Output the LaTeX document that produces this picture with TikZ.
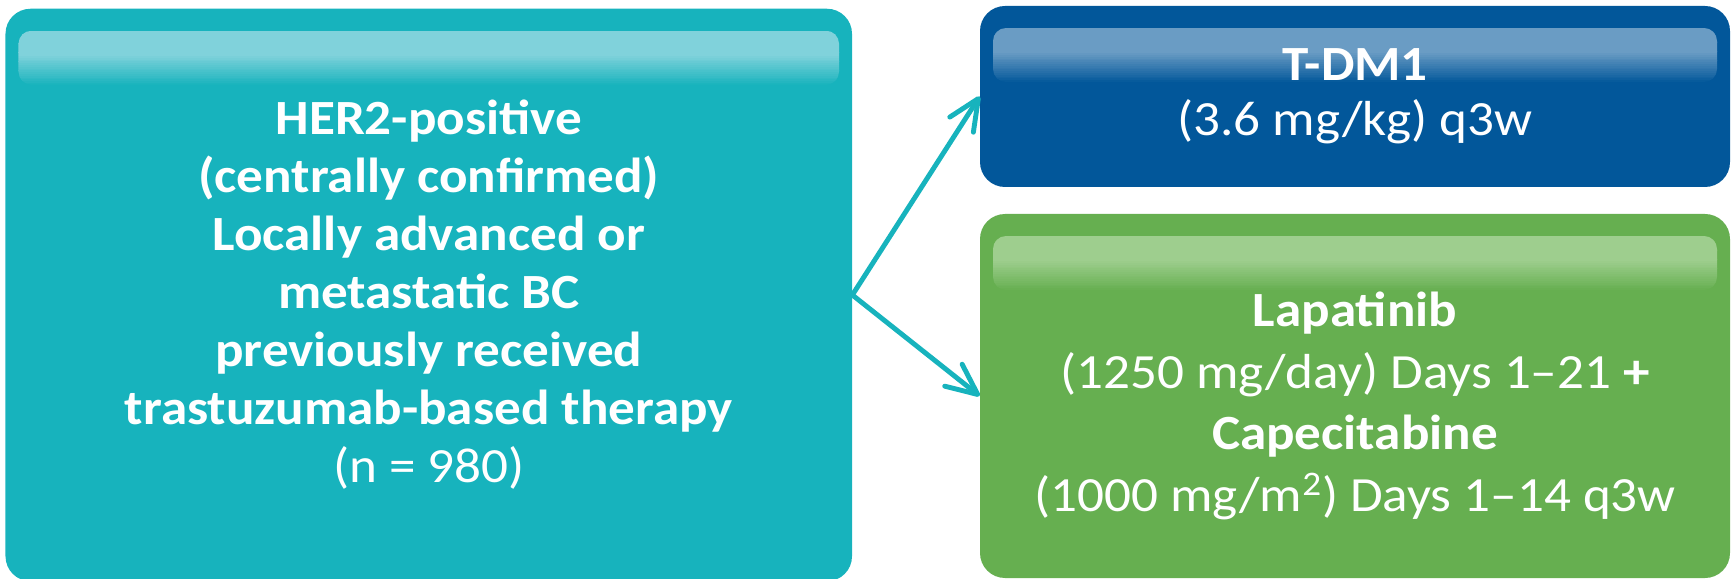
\documentclass[tikz,border=0pt]{standalone}
\usepackage{fontspec}
\setmainfont{Carlito}[FakeStretch=1.08]
\usepackage{xcolor}
\usetikzlibrary{calc, arrows.meta}

\definecolor{teal1}{HTML}{17B3BD}
\definecolor{teal2}{HTML}{80D2DB}
\definecolor{blue1}{HTML}{02579A}
\definecolor{blue2}{HTML}{6A9CC4}
\definecolor{green1}{HTML}{66AF50}
\definecolor{green2}{HTML}{9ECE8E}

\tikzset{
  glossy/.style 2 args={rounded corners=0.5cm, text=white, align=center, inner sep=0pt,
    preaction={fill=#1,
      path picture={
        \begin{scope}[sharp corners]
        \clip[rounded corners=0.26cm]
          ($(path picture bounding box.north west)+(0.26,-0.44)$) rectangle
          ($(path picture bounding box.north east)+(-0.26,-1.52)$);
        \foreach \k [evaluate=\k as \p using {int(min(100,(30-\k)*100/17))}] in {0,...,29}
          \fill[#2!\p!#1, sharp corners]
            ($(path picture bounding box.north west)+(0.2,-0.44-\k*0.036)$) rectangle
            ($(path picture bounding box.north east)+(-0.2,-0.48-\k*0.036)$);
        \end{scope}}}},
  arm/.style={teal1, line width=2.8pt, line cap=round,
    -{Straight Barb[length=0.62cm, width=0.56cm, round]}}
}

\begin{document}
\begin{tikzpicture}
    \useasboundingbox (0,0) rectangle (34.72,-11.58);
    \node[glossy={teal1}{teal2}, minimum width=16.93cm, minimum height=11.45cm,
      font=\fontsize{28}{33}\selectfont] (pop) at (8.575,-5.90)
      {\textbf{HER2-positive}\\ \textbf{(centrally confirmed)}\\ \textbf{Locally advanced or}\\
       \textbf{metastatic BC}\\ \textbf{previously received}\\ \textbf{trastuzumab-based therapy}\\
       (n = 980)};
    \node[glossy={blue1}{blue2}, minimum width=15cm, minimum height=3.62cm,
      font=\fontsize{28}{31.5}\selectfont] (tdm) at (27.1,-1.93)
      {\textbf{T-DM1}\\ (3.6 mg/kg) q3w};
    \node[glossy={green1}{green2}, minimum width=15cm, minimum height=7.28cm] (lapcap)
      at (27.1,-7.92) {};
    \node[text=white, align=center, font=\fontsize{28}{35}\selectfont] (lapcaptext)
      at ($(lapcap.center)+(0,-0.2)$)
      {\textbf{Lapatinib}\\ (1250 mg/day) Days 1--21 \textbf{+}\\ \textbf{Capecitabine}\\
       (1000 mg/m\textsuperscript{2}) Days 1--14 q3w};
    % randomisation arms
    \draw[arm] (pop.east) -- (tdm.west);
    \draw[arm] (pop.east) -- (lapcap.west);
\end{tikzpicture}
\end{document}
